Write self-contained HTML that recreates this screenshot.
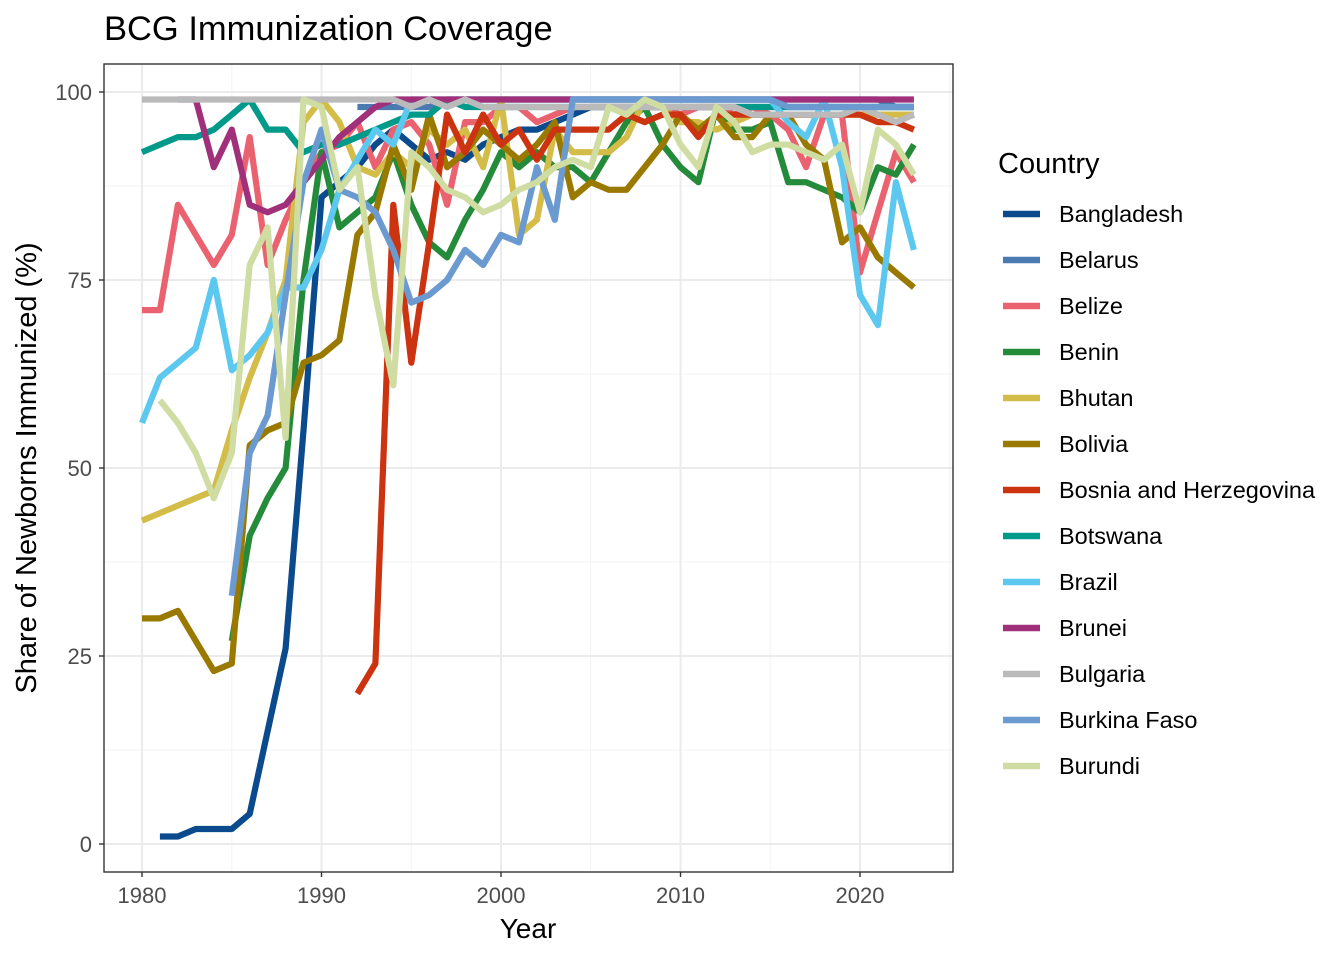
<!DOCTYPE html>
<html><head><meta charset="utf-8"><style>
body{margin:0;background:#fff;}
svg text{font-family:"Liberation Sans",Arial,sans-serif;}
</style></head><body>
<svg id="s" width="1344" height="960" xmlns="http://www.w3.org/2000/svg">
<rect width="1344" height="960" fill="#fff"/>
<g id="grid"></g>
<g id="lines" fill="none" stroke-width="6.2" stroke-linejoin="round"></g>
<rect x="104" y="64" width="849" height="808" fill="none" stroke="#333" stroke-width="1.4"/>
<g id="axes"></g>
<text x="104" y="40" font-size="34.5" fill="#000">BCG Immunization Coverage</text>
<text x="528" y="938" font-size="28" text-anchor="middle" fill="#000">Year</text>
<text transform="translate(36,468) rotate(-90)" font-size="29" text-anchor="middle" fill="#000">Share of Newborns Immunized (%)</text>
<text x="998" y="173" font-size="29" fill="#000">Country</text>
<g id="legend"></g>
</svg>
<script>
const X=y=>142+(y-1980)*17.95, Y=v=>844-v*7.52;
const ns="http://www.w3.org/2000/svg";
function el(p,t,a,txt){const e=document.createElementNS(ns,t);for(const k in a)e.setAttribute(k,a[k]);if(txt!==undefined)e.textContent=txt;document.getElementById(p).appendChild(e);return e;}
for(let y=1985;y<=2025;y+=10)el("grid","line",{x1:X(y),x2:X(y),y1:64,y2:872,stroke:"#f3f3f3","stroke-width":1});
for(let v=12.5;v<100;v+=25)el("grid","line",{x1:104,x2:953,y1:Y(v),y2:Y(v),stroke:"#f3f3f3","stroke-width":1});
for(let y=1980;y<=2020;y+=10){el("grid","line",{x1:X(y),x2:X(y),y1:64,y2:872,stroke:"#ebebeb","stroke-width":2});
 el("axes","line",{x1:X(y),x2:X(y),y1:872,y2:877,stroke:"#333","stroke-width":1.4});
 el("axes","text",{x:X(y),y:903,"font-size":22,"text-anchor":"middle",fill:"#4d4d4d"},y);}
for(let v=0;v<=100;v+=25){el("grid","line",{x1:104,x2:953,y1:Y(v),y2:Y(v),stroke:"#ebebeb","stroke-width":2});
 el("axes","line",{x1:99,x2:104,y1:Y(v),y2:Y(v),stroke:"#333","stroke-width":1.4});
 el("axes","text",{x:92,y:Y(v)+8,"font-size":22,"text-anchor":"end",fill:"#4d4d4d"},v);}
function seq(start,arr){const o={};arr.forEach((v,i)=>o[start+i]=v);return o;}
const S=[
["Bangladesh","#0b4a8c",seq(1981,[1,1,2,2,2,4,15,26,55,86,88,90,93,95,93,91,92,91,93,94,95,95,96,97,98,98,98,98,98,98,98,98,98,98,98,98,98,98,98,98,98,98,98])],
["Belarus","#4a7ab0",seq(1992,[98,98,98,98,98,99,99,99,99,99,99,99,99,99,99,99,99,99,99,99,99,99,99,99,99,99,99,99,99,99,98,98])],
["Belize","#ea6270",seq(1980,[71,71,85,81,77,81,94,77,83,88,92,93,96,90,95,96,93,85,96,96,98,98,96,97,98,98,98,98,98,98,97,98,98,97,98,97,95,90,97,97,76,84,92,88])],
["Benin","#248b3b",seq(1985,[27,41,46,50,75,92,82,84,86,92,85,80,78,83,87,92,90,92,90,90,88,92,96,98,93,90,88,98,95,95,96,88,88,87,86,84,90,89,93])],
["Bhutan","#d3bc48",Object.assign({1980:43},seq(1984,[47,55,62,68,75,96,99,96,90,89,92,90,95,93,95,90,99,81,83,95,92,92,92,94,99,98,96,96,95,96,97,97,97,97,97,97,97,97,97,97]))],
["Bolivia","#9a7900",seq(1980,[30,30,31,27,23,24,53,55,56,64,65,67,81,84,93,87,97,90,92,95,93,91,93,96,86,88,87,87,90,93,97,95,97,94,94,97,97,93,91,80,82,78,76,74])],
["Bosnia and Herzegovina","#cc3311",seq(1992,[20,24,85,64,80,97,92,97,93,95,91,95,95,95,95,97,96,97,97,94,97,97,97,97,97,97,97,97,97,96,96,95])],
["Botswana","#00998a",seq(1980,[92,93,94,94,95,97,99,95,95,92,93,93,94,95,96,97,97,99,98,98,98,98,98,98,98,98,98,98,98,98,98,98,98,98,98,98,98,98,98,98,98,98,98,98])],
["Brazil","#5cc8ef",seq(1980,[56,62,64,66,75,63,65,68,74,74,79,87,91,95,93,99,99,99,99,99,99,99,99,99,99,99,99,99,99,99,99,99,99,99,99,99,96,94,99,90,73,69,88,79])],
["Brunei","#a0307a",seq(1982,[99,99,90,95,85,84,85,88,91,94,96,98,99,99,99,99,99,99,99,99,99,99,99,99,99,99,99,99,99,99,99,99,99,99,99,99,99,99,99,99,99,99])],
["Bulgaria","#bababa",seq(1980,[99,99,99,99,99,99,99,99,99,99,99,99,99,99,99,98,99,98,99,98,98,98,98,98,98,98,98,98,98,98,98,98,98,98,97,97,97,97,97,97,98,97,96,97])],
["Burkina Faso","#6a9ad0",seq(1985,[33,52,57,73,88,95,87,86,84,79,72,73,75,79,77,81,80,90,83,99,99,99,99,99,99,99,99,99,99,99,99,98,98,98,98,98,98,98,98])],
["Burundi","#cfdda3",seq(1981,[59,56,52,46,52,77,82,54,99,98,87,90,73,61,92,90,87,86,84,85,87,88,90,91,90,98,97,99,98,93,90,98,96,92,93,93,92,91,93,84,95,93,89])]
];
S.forEach((s,i)=>{const ys=Object.keys(s[2]).map(Number).sort((a,b)=>a-b);
 el("lines","path",{d:ys.map((y,j)=>(j?"L":"M")+X(y).toFixed(1)+","+Y(s[2][y]).toFixed(1)).join(""),stroke:s[1]});
 const ly=214+i*46;
 el("legend","line",{x1:1003,x2:1040,y1:ly,y2:ly,stroke:s[1],"stroke-width":6.5});
 el("legend","text",{x:1059,y:ly+8,"font-size":23.5,fill:"#000"},s[0]);});
</script>
</body></html>
